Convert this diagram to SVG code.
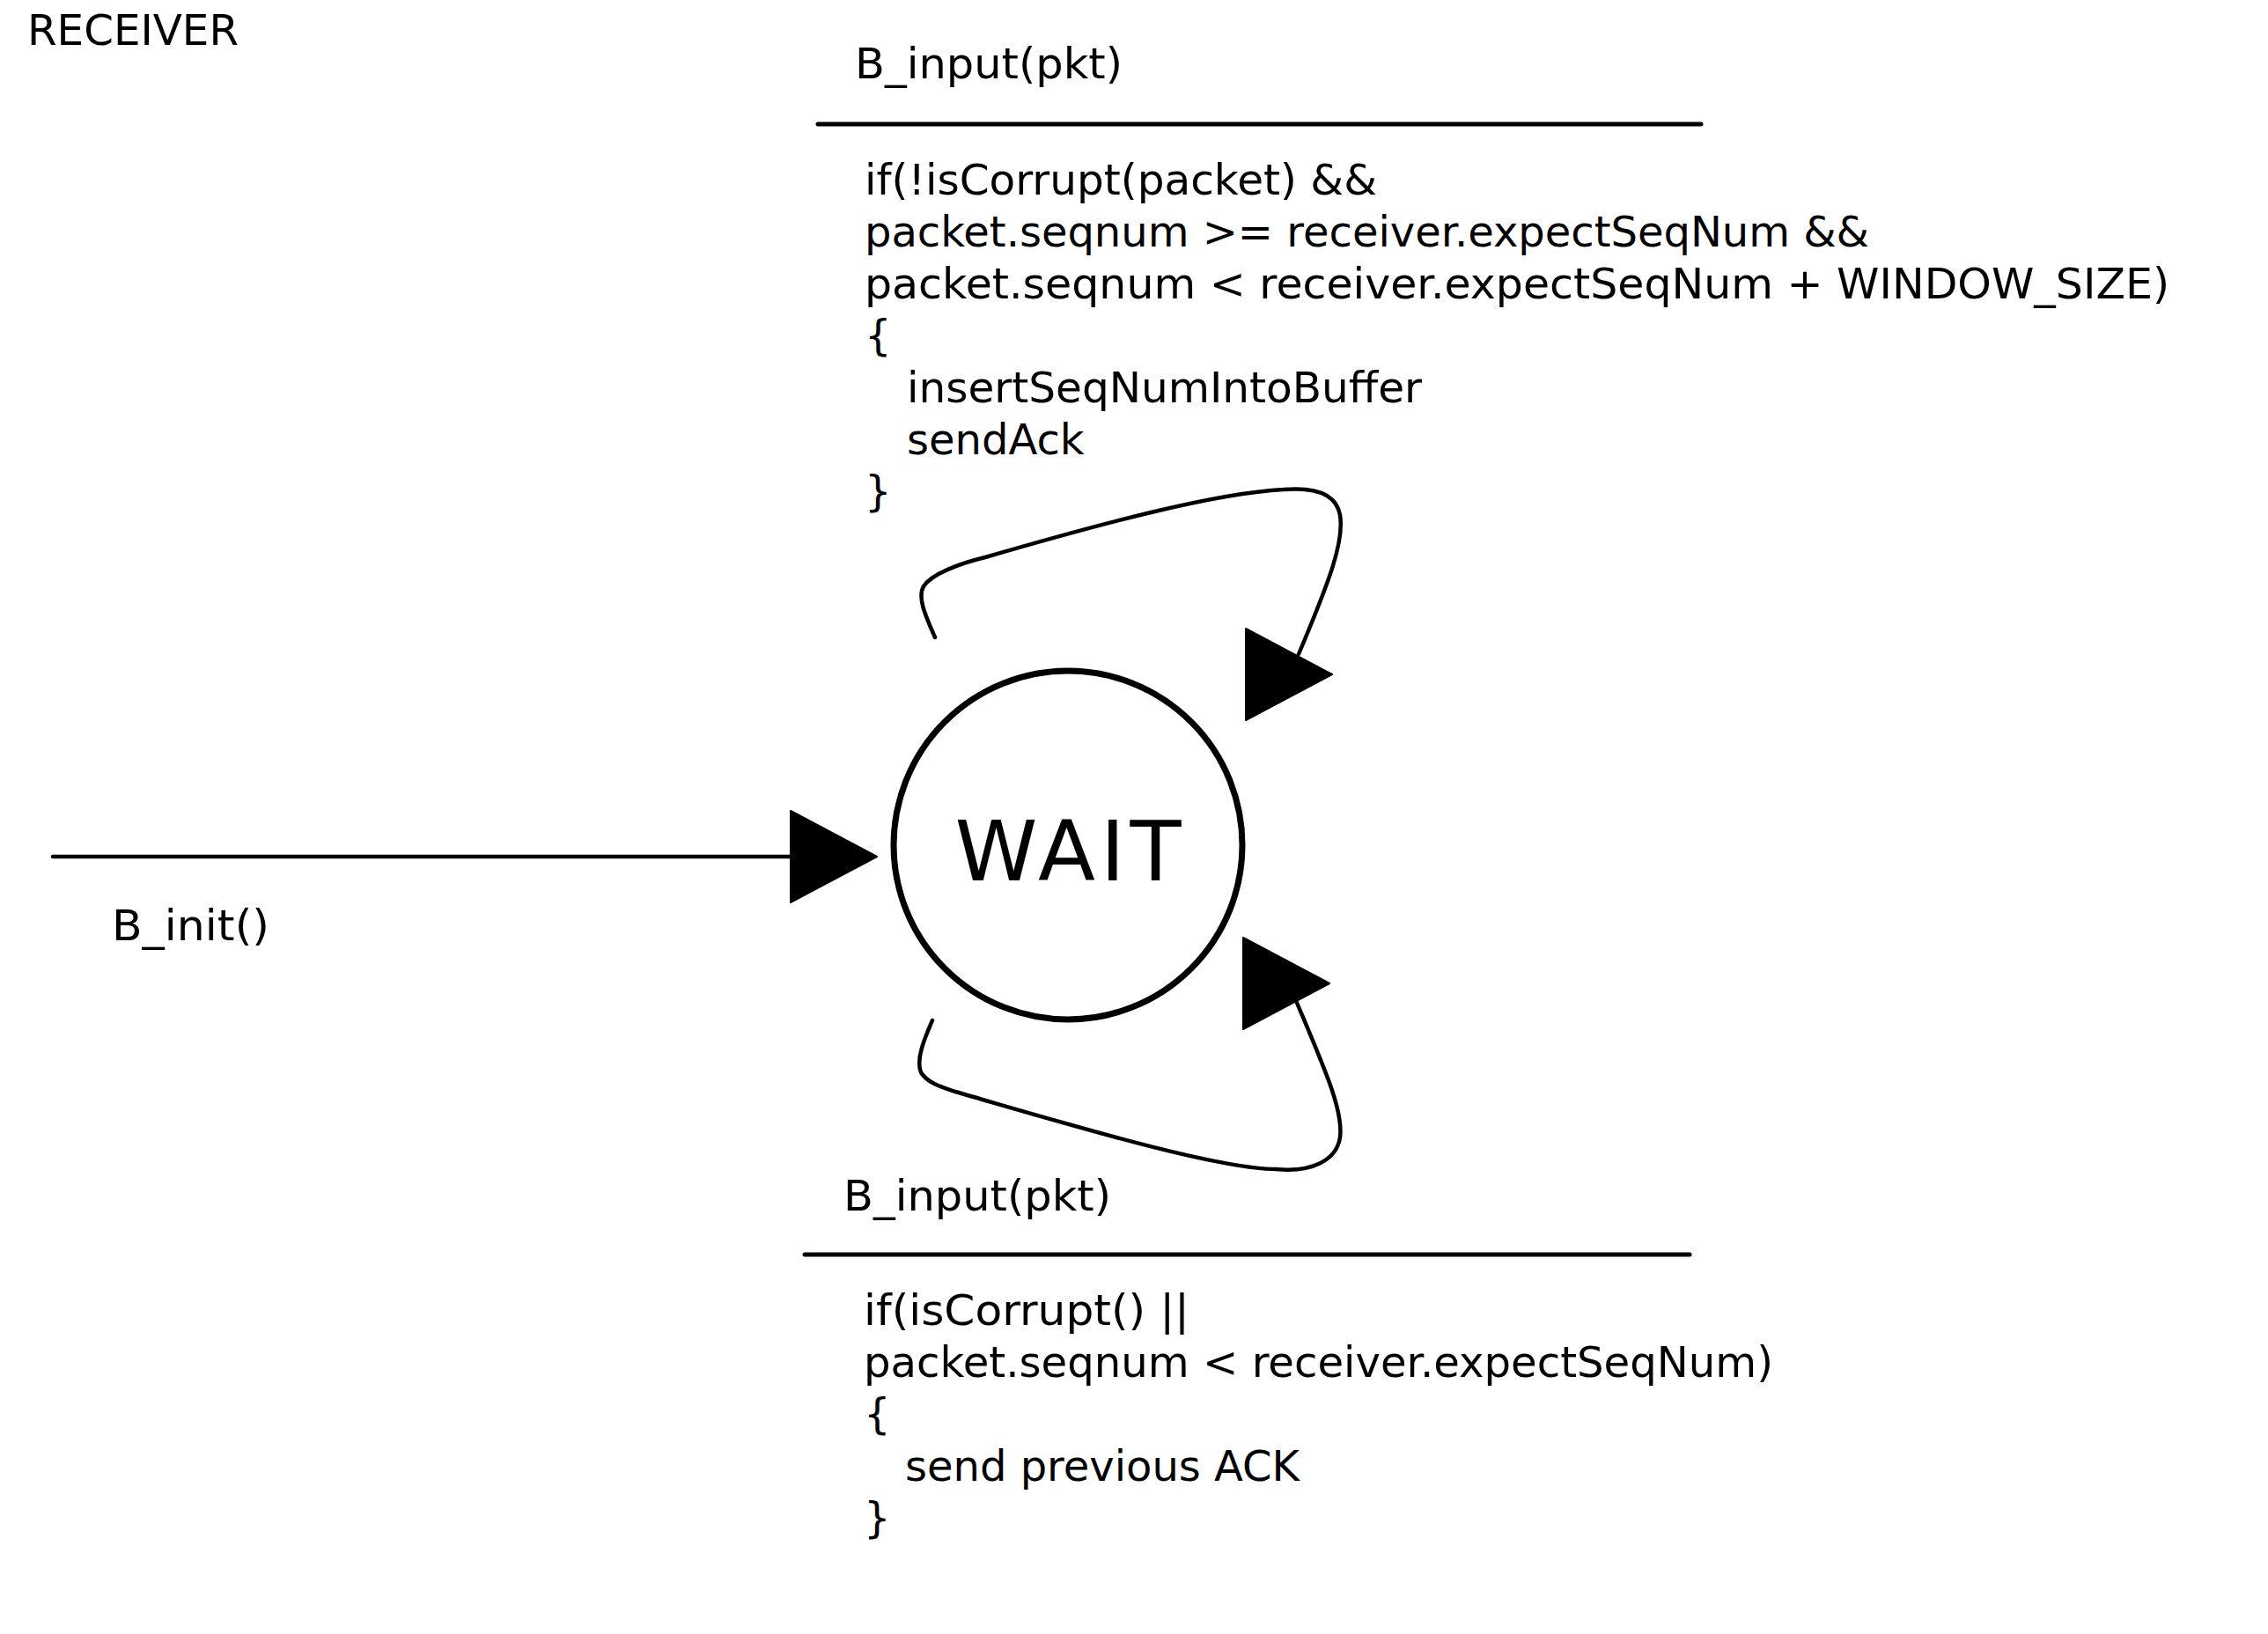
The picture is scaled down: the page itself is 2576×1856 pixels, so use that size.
<svg xmlns="http://www.w3.org/2000/svg" xmlns:xlink="http://www.w3.org/1999/xlink" width="2576" height="1856" viewBox="0 0 2576 1856">
<style>
text { font-family: "DejaVu Sans", Verdana, "Liberation Sans", sans-serif; fill: #000; }
.t { font-size: 48px; }
.wait { font-size: 95px; }
.edge { fill: none; stroke: #000; stroke-width: 4.5; stroke-linecap: round; stroke-linejoin: round; }
.rule { stroke: #000; stroke-width: 5; stroke-linecap: round; }
.state { fill: #fff; stroke: #000; stroke-width: 7; }
.head { fill: #000; stroke: #000; stroke-width: 2; stroke-linejoin: round; }
</style>
<defs>
<path id="tri" d="M0,-52 L0,52 L98,0 Z"/>
</defs>
<rect x="0" y="0" width="2576" height="1856" fill="#fff"/>

<g id="title">
<text class="t" x="31" y="51" textLength="240" lengthAdjust="spacingAndGlyphs">RECEIVER</text>
</g>

<g id="connectors">
<line class="edge" x1="60" y1="973" x2="902" y2="973"/>
<use xlink:href="#tri" class="head" x="898" y="973"/>
<path class="edge" d="M1062,724 C1050,697 1042,678 1049,666 C1058,652 1090,640 1119,633 C1250,595 1380,560 1458,556 C1495,553 1518,562 1522,585 C1527,615 1510,660 1475,743"/>
<use xlink:href="#tri" class="head" x="1415" y="766"/>
<path class="edge" d="M1059,1159 C1050,1180 1040,1203 1046,1218 C1053,1230 1070,1235 1085,1240 C1200,1273 1380,1328 1449,1328 C1490,1332 1518,1318 1522,1292 C1526,1262 1505,1215 1473,1139"/>
<use xlink:href="#tri" class="head" x="1412" y="1117"/>
</g>

<g id="init-label">
<text class="t" x="127" y="1068" textLength="179" lengthAdjust="spacingAndGlyphs">B_init()</text>
</g>

<g id="state-wait">
<circle class="state" cx="1213" cy="960" r="198"/>
<text class="wait" x="1213" y="1000" text-anchor="middle" textLength="257" lengthAdjust="spacing">WAIT</text>
</g>

<g id="top-transition">
<text class="t" x="971" y="89" textLength="304" lengthAdjust="spacingAndGlyphs">B_input(pkt)</text>
<line class="rule" x1="929" y1="141" x2="1932" y2="141"/>
<text class="t" x="982" y="221" textLength="582" lengthAdjust="spacingAndGlyphs">if(!isCorrupt(packet) &amp;&amp;</text>
<text class="t" x="982" y="280" textLength="1141" lengthAdjust="spacingAndGlyphs">packet.seqnum &gt;= receiver.expectSeqNum &amp;&amp;</text>
<text class="t" x="982" y="339" textLength="1482" lengthAdjust="spacingAndGlyphs">packet.seqnum &lt; receiver.expectSeqNum + WINDOW_SIZE)</text>
<text class="t" x="982" y="398">{</text>
<text class="t" x="1030" y="457" textLength="585" lengthAdjust="spacingAndGlyphs">insertSeqNumIntoBuffer</text>
<text class="t" x="1030" y="516">sendAck</text>
<text class="t" x="982" y="575">}</text>
</g>

<g id="bottom-transition">
<text class="t" x="958" y="1375" textLength="304" lengthAdjust="spacingAndGlyphs">B_input(pkt)</text>
<line class="rule" x1="914" y1="1425" x2="1919" y2="1425"/>
<text class="t" x="981" y="1505" textLength="370" lengthAdjust="spacingAndGlyphs">if(isCorrupt() ||</text>
<text class="t" x="981" y="1564" textLength="1033" lengthAdjust="spacingAndGlyphs">packet.seqnum &lt; receiver.expectSeqNum)</text>
<text class="t" x="981" y="1623">{</text>
<text class="t" x="1028" y="1682" textLength="448" lengthAdjust="spacingAndGlyphs">send previous ACK</text>
<text class="t" x="981" y="1741">}</text>
</g>
</svg>
